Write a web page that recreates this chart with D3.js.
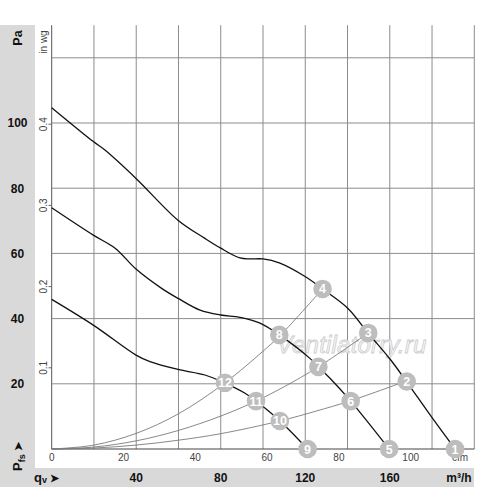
<!DOCTYPE html>
<html><head><meta charset="utf-8">
<script src="https://cdn.jsdelivr.net/npm/d3@7/dist/d3.min.js"></script>
<style>body{margin:0;background:#fff}svg{display:block}</style>
</head><body>
<script>
// ---- data (q in m³/h, p in Pa) ----
const xGridTicks = [0,20,40,60,80,100,120,140,160,180,200];
const m3hLabels = [40,80,120,160];
const paLabels = [20,40,60,80,100];
const paGrid = [20,40,60,80,100,120];
const cfmLabels = [0,20,40,60,80,100];
const inwgLabels = [0.1,0.2,0.3,0.4];

const fanHighQ = [0,19.7,25.2,39.9,59.9,72.5,80,89.1,93.8,100,108,119.9,128.2,140.1,149.8,160.1,168,180,190.9];
const fanHighP = [104.7,94.3,91.7,83.0,70.1,64.6,61.6,58.6,58.3,58.3,57,52.9,49.1,43.2,35.5,27.6,20.6,9.6,0];
const fanMidQ = [0,19.7,30,39.9,52.2,59.8,70.2,80,89.1,98.6,107.7,122.2,126.2,131.7,141.5,159.7];
const fanMidP = [74.0,65.6,61.6,55.2,49.2,46.2,42.6,41.1,40.4,38.6,35.0,27.8,25.2,21.7,14.7,0];
const fanLowQ = [0,19.7,39.9,46.5,59.8,72.5,82,91.5,96.7,108,121.1];
const fanLowP = [45.9,38.0,28.8,26.8,24.4,22.7,20.2,17.1,14.7,8.6,0];

const sysAQ = [0,20,40,60,82,100,108.4,128.3];
const sysAP = [0,1.2,4.8,10.8,20.3,30,35.0,49.2];
const sysBQ = [0,20,40,60,80,96.7,110,126.2,149.8];
const sysBP = [0,0.6,2.5,5.7,10.1,14.7,19.1,25.2,35.6];
const sysCQ = [0,20,40,60,80,108,125,141.5,168];
const sysCP = [0,0.3,1.2,2.7,4.7,8.6,11.6,14.8,20.9];

const markerIds = [1,2,3,4,5,6,7,8,9,10,11,12];
const markerQ = [190.9,168,149.8,128.2,159.7,141.5,126.2,107.7,121.1,108,96.7,82];
const markerP = [0,20.7,35.6,49.1,0,14.7,25.2,35.0,0,8.6,14.7,20.3];

const W=500,H=490;
const svg=d3.select("body").append("svg").attr("width",W).attr("height",H)
  .style("font-family","'Liberation Sans', Arial, sans-serif");

const x=d3.scaleLinear().domain([0,200]).range([51.7,474.3]);
const y=d3.scaleLinear().domain([0,130]).range([449,25.2]);
const xc=d3.scaleLinear().domain([0,200/1.699]).range([51.7,474.3]); // cfm
const yw=d3.scaleLinear().domain([0,130/249.09]).range([449,25.2]);   // in wg

// gray frames
const gray="#d9d9d9";
svg.append("rect").attr("x",0).attr("y",25).attr("width",35).attr("height",462).attr("fill",gray);
svg.append("rect").attr("x",0).attr("y",468).attr("width",474).attr("height",19).attr("fill",gray);

// grid
const g=svg.append("g");
g.selectAll(".vg").data(xGridTicks).join("line")
  .attr("x1",d=>x(d)).attr("x2",d=>x(d)).attr("y1",y(130)).attr("y2",y(0))
  .attr("stroke",d=>d===0?"#555":"#8c8c8c").attr("stroke-width",1);
g.selectAll(".hg").data(paGrid).join("line")
  .attr("x1",x(0)).attr("x2",x(200)).attr("y1",d=>y(d)).attr("y2",d=>y(d))
  .attr("stroke","#8c8c8c").attr("stroke-width",1);
g.append("line").attr("x1",x(0)).attr("x2",x(200)).attr("y1",y(0)).attr("y2",y(0))
  .attr("stroke","#444").attr("stroke-width",1);

// cfm labels (drawn beneath markers)
svg.selectAll(".cf").data(cfmLabels).join("text").text(d=>d)
  .attr("x",d=>xc(d)).attr("y",461).attr("text-anchor","middle")
  .attr("font-size",10).attr("fill","#444");
svg.append("text").text("cfm").attr("x",460).attr("y",461).attr("text-anchor","middle")
  .attr("font-size",10).attr("fill","#444");

// watermark
svg.append("text").attr("x",x(106.5)).attr("y",y(29.3)).text("Ventilatorry.ru")
  .attr("font-size",24).attr("font-style","italic")
  .attr("fill","#f6f6f6").attr("stroke","#cdcdcd").attr("stroke-width",0.8)
  .attr("letter-spacing",0.2);

// system curves
const line=d3.line().x(d=>x(d[0])).y(d=>y(d[1])).curve(d3.curveCatmullRom.alpha(0.5));
[[sysAQ,sysAP],[sysBQ,sysBP],[sysCQ,sysCP]].forEach(([q,p])=>{
  svg.append("path").datum(q.map((v,i)=>[v,p[i]])).attr("d",line)
    .attr("fill","none").attr("stroke","#7a7a7a").attr("stroke-width",0.9);
});
// fan curves
[[fanHighQ,fanHighP],[fanMidQ,fanMidP],[fanLowQ,fanLowP]].forEach(([q,p])=>{
  svg.append("path").datum(q.map((v,i)=>[v,p[i]])).attr("d",line)
    .attr("fill","none").attr("stroke","#111").attr("stroke-width",1.3);
});

// markers
const mk=svg.selectAll(".mk").data(markerIds).join("g")
  .attr("transform",(d,i)=>`translate(${x(markerQ[i])},${y(markerP[i])})`);
mk.append("circle").attr("r",9.3).attr("fill","#bdbdbd");
mk.append("text").text(d=>d).attr("text-anchor","middle").attr("dy","0.36em")
  .attr("fill","#fff").attr("font-weight","bold").attr("font-size",12.5);

// left Pa labels
svg.selectAll(".pa").data(paLabels).join("text").text(d=>d)
  .attr("x",17.5).attr("y",d=>y(d)).attr("dy","0.36em").attr("text-anchor","middle")
  .attr("font-weight","bold").attr("font-size",12).attr("fill","#111");
svg.append("text").text("Pa").attr("transform","translate(22,38) rotate(-90)")
  .attr("text-anchor","middle").attr("font-weight","bold").attr("font-size",12.5).attr("fill","#111");
const pfs=svg.append("text").attr("transform","translate(22,471) rotate(-90)")
  .attr("font-weight","bold").attr("font-size",13).attr("fill","#111");
pfs.append("tspan").text("P");
pfs.append("tspan").text("fs").attr("font-size",9).attr("dy",3);
pfs.append("tspan").text(" ➤").attr("font-size",11).attr("dy",-3);

// in wg labels
svg.selectAll(".iw").data(inwgLabels).join("text").text(d=>d)
  .attr("transform",d=>`translate(46.5,${yw(d)}) rotate(-90)`).attr("text-anchor","middle")
  .attr("font-size",10).attr("fill","#444");
svg.selectAll(".iwt").data(inwgLabels).join("line")
  .attr("x1",48.5).attr("x2",51.7).attr("y1",d=>yw(d)).attr("y2",d=>yw(d)).attr("stroke","#666");
svg.append("text").text("in wg").attr("transform","translate(46.5,42) rotate(-90)")
  .attr("text-anchor","middle").attr("font-size",10).attr("fill","#444");

// m3/h labels
svg.selectAll(".mh").data(m3hLabels).join("text").text(d=>d)
  .attr("x",d=>x(d)).attr("y",482).attr("text-anchor","middle")
  .attr("font-weight","bold").attr("font-size",12).attr("fill","#111");
svg.append("text").text("m³/h").attr("x",459).attr("y",482).attr("text-anchor","middle")
  .attr("font-weight","bold").attr("font-size",12).attr("fill","#111");
const qv=svg.append("text").attr("x",34).attr("y",482)
  .attr("font-weight","bold").attr("font-size",13).attr("fill","#111");
qv.append("tspan").text("q");
qv.append("tspan").text("v").attr("font-size",9).attr("dy",1);
qv.append("tspan").text(" ➤").attr("font-size",11).attr("dy",-1);
</script>
</body></html>
